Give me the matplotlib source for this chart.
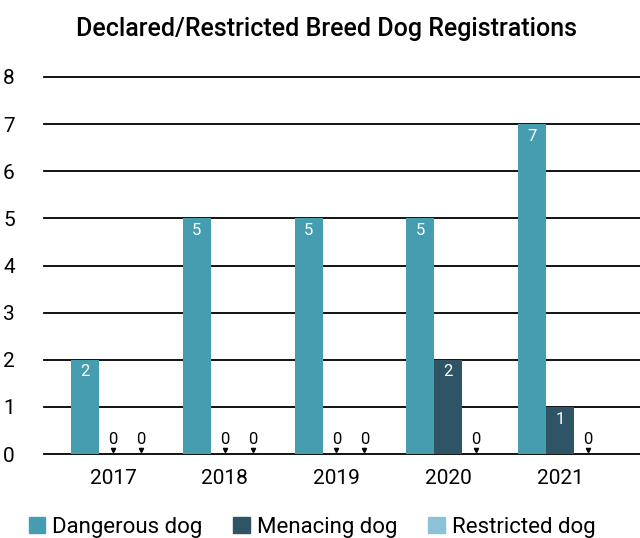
import matplotlib
matplotlib.use("Agg")
import matplotlib.pyplot as plt
import numpy as np
from matplotlib.patches import Patch

years = ["2017", "2018", "2019", "2020", "2021"]
series = ["Dangerous dog", "Menacing dog", "Restricted dog"]
dangerous = [2, 5, 5, 5, 7]
menacing = [0, 0, 0, 2, 1]
restricted = [0, 0, 0, 0, 0]
colors = ["#479DB0", "#2F5466", "#8BC2D8"]

plt.rcParams['font.family'] = ['Roboto', 'DejaVu Sans']

fig = plt.figure(figsize=(6.4, 5.38), dpi=100)
ax = fig.add_axes([44/640, 1-454/538, (640-44)/640, (454-77)/538])

x = np.arange(len(years))
w = 0.25
data = [dangerous, menacing, restricted]
for i, (vals, c) in enumerate(zip(data, colors)):
    pos = x + (i - 1) * w
    ax.bar(pos, vals, width=w, color=c, zorder=3)
    for p, v in zip(pos, vals):
        if v > 0:
            ax.text(p, v - 0.1, str(v), ha='center', va='top', color='white', fontsize=12, zorder=4)
        else:
            ax.text(p, 0.14, str(v), ha='center', va='bottom', color='black', fontsize=12, zorder=4)
            ax.plot([p], [0.09], marker='v', color='black', markersize=3, zorder=4)

ax.set_ylim(0, 8)
ax.set_xlim(-(113-44)/111.75, 4 + (640-560)/111.75)
ax.set_yticks(range(0, 9))
ax.yaxis.grid(True, color='black', linewidth=1.3, zorder=0)
for gl in ax.get_ygridlines():
    gl.set_clip_on(False)
ax.set_axisbelow(True)
for s in ax.spines.values():
    s.set_visible(False)
ax.tick_params(axis='both', length=0, labelsize=15)
ax.tick_params(axis='y', pad=21)
ax.tick_params(axis='x', pad=11)
ax.set_xticks(x)
ax.set_xticklabels(years)

fig.text(327/640, 1-29/538, "Declared/Restricted Breed Dog Registrations", ha='center', va='center',
         fontsize=18, fontweight='medium')

handles = [Patch(color=c) for c in colors]
fig.legend(handles, series, loc='center', bbox_to_anchor=(0.4875, 1-527/538), ncol=3, frameon=False,
           fontsize=16, handlelength=0.75, handleheight=0.75, handletextpad=0.3, columnspacing=1.4)

fig.savefig("out.png", dpi=100)
